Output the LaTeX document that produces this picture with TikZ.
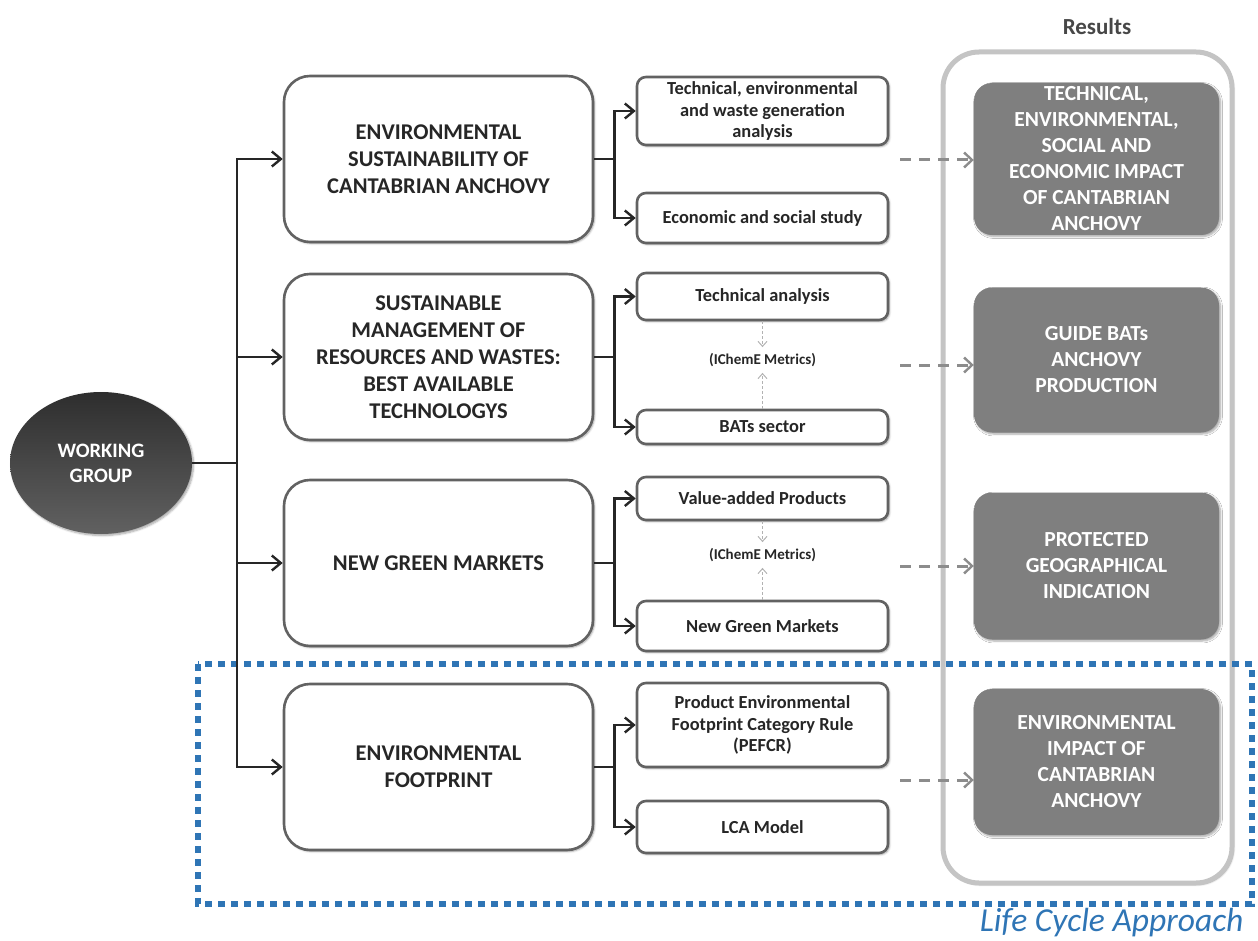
\documentclass[tikz,border=0pt]{standalone}
\usepackage{fontspec}
\setmainfont{Carlito}
\usetikzlibrary{arrows.meta,calc,shadows.blur,shapes.geometric}
\definecolor{cInk}{HTML}{262626}
\definecolor{cEdge}{HTML}{626262}
\definecolor{cRes}{HTML}{7F7F7F}
\definecolor{cPanel}{HTML}{C4C4C4}
\definecolor{cDash}{HTML}{8C8C8C}
\definecolor{cLife}{HTML}{2F75B5}
\tikzset{
  soft/.style     = {blur shadow={shadow xshift=1.5pt, shadow yshift=-1.5pt,
                     shadow blur steps=6, shadow opacity=35}},
  mainbox/.style  = {draw=cEdge, line width=2.6, fill=white, rounded corners=26,
                     soft, align=center, text=cInk, minimum width=309, minimum height=166,
                     font=\bfseries\fontsize{22.5}{27}\selectfont},
  subbox/.style   = {draw=cEdge, line width=2.6, fill=white, rounded corners=9,
                     soft, align=center, text=cInk, minimum width=251,
                     font=\bfseries\fontsize{18.4}{21.5}\selectfont},
  resbox/.style   = {fill=cRes, rounded corners=18, soft, align=center, text=white,
                     minimum width=245, font=\bfseries\fontsize{21.5}{26}\selectfont},
  group/.style    = {ellipse, top color=black!82, bottom color=black!62, draw=none,
                     soft, minimum width=182, minimum height=142, text=white,
                     align=center, font=\bfseries\fontsize{20.5}{25}\selectfont},
  flow/.style     = {-{Straight Barb[length=9pt, width=15pt, line width=2.4pt]},
                     line width=2.6, draw=cInk},
  link/.style     = {line width=2.6, draw=cInk},
  resflow/.style  = {-{Straight Barb[length=8pt, width=15pt, line width=2.4pt]},
                     line width=3, draw=cDash, dash pattern=on 11pt off 8pt},
  metric/.style   = {-{Straight Barb[length=5pt, width=9pt]}, line width=1,
                     draw=black!30, dash pattern=on 3pt off 2pt},
  note/.style     = {font=\bfseries\fontsize{15}{18}\selectfont, text=cInk, inner sep=6},
}
\begin{document}
\begin{tikzpicture}[x=1pt, y=-1pt]
  \useasboundingbox (0,0) rectangle (1258,941);

  % results panel
  \node[draw=cPanel, line width=5, fill=white, rounded corners=36, soft,
        minimum width=289, minimum height=831] (P) at (1087.5,467.5) {};
  \node[font=\bfseries\fontsize{23}{27}\selectfont, text=black!72] (RL) at (1097,27) {Results};

  % life cycle frame
  \draw[cLife, line width=6, dash pattern=on 7pt off 6pt] (198,664) rectangle (1252,904);
  \node[anchor=base east, text=cLife, font=\itshape\fontsize{33.5}{38}\selectfont]
    (LC) at (1247,931) {Life Cycle Approach};

  % working group and trunk
  \node[group] (WG) at (101,463) {WORKING\\GROUP};
  \coordinate (T) at (237,463);

  % work packages
  \node[mainbox] (E1) at (438.5,159) {ENVIRONMENTAL\\SUSTAINABILITY OF\\CANTABRIAN ANCHOVY};
  \node[mainbox] (E2) at (438.5,357) {SUSTAINABLE\\MANAGEMENT OF\\RESOURCES AND WASTES:\\BEST AVAILABLE\\TECHNOLOGYS};
  \node[mainbox] (E3) at (438.5,563) {NEW GREEN MARKETS};
  \node[mainbox] (E4) at (438.5,767) {ENVIRONMENTAL\\FOOTPRINT};

  % tasks
  \node[subbox, minimum height=68] (S1a) at (762.5,111)   {Technical, environmental\\and waste generation\\analysis};
  \node[subbox, minimum height=50] (S1b) at (762.5,218)   {Economic and social study};
  \node[subbox, minimum height=47] (S2a) at (762.5,296.5) {Technical analysis};
  \node[subbox, minimum height=34] (S2b) at (762.5,427)   {BATs sector};
  \node[subbox, minimum height=43] (S3a) at (762.5,498.5) {Value-added Products};
  \node[subbox, minimum height=50] (S3b) at (762.5,626)   {New Green Markets};
  \node[subbox, minimum height=84] (S4a) at (762.5,725)   {Product Environmental\\Footprint Category Rule\\(PEFCR)};
  \node[subbox, minimum height=52] (S4b) at (762.5,827)   {LCA Model};

  \node[note] (M2) at (762.5,360) {(IChemE Metrics)};
  \node[note] (M3) at (762.5,555) {(IChemE Metrics)};

  % results
  \node[resbox, minimum height=152] (R1) at (1096.5,159) {TECHNICAL,\\ENVIRONMENTAL,\\SOCIAL AND\\ECONOMIC IMPACT\\OF CANTABRIAN\\ANCHOVY};
  \node[resbox, minimum height=145] (R2) at (1096.5,360) {GUIDE BATs\\ANCHOVY\\PRODUCTION};
  \node[resbox, minimum height=147] (R3) at (1096.5,566) {PROTECTED\\GEOGRAPHICAL\\INDICATION};
  \node[resbox, minimum height=146] (R4) at (1096.5,762) {ENVIRONMENTAL\\IMPACT OF\\CANTABRIAN\\ANCHOVY};

  % trunk to work packages
  \draw[link] (WG.east) -- (T);
  \foreach \e in {E1,E2,E3,E4} \draw[flow] (T) |- (\e.west);

  % work packages to tasks
  \foreach \e/\a/\b in {E1/S1a/S1b, E2/S2a/S2b, E3/S3a/S3b, E4/S4a/S4b} {
    \draw[link] (\e.east) -- ++(20,0) coordinate (\e j);
    \draw[flow] (\e j) |- (\a.west);
    \draw[flow] (\e j) |- (\b.west);
  }

  % metrics
  \draw[metric] (S2a.south) -- (M2.north);
  \draw[metric] (S2b.north) -- (M2.south);
  \draw[metric] (S3a.south) -- (M3.north);
  \draw[metric] (S3b.north) -- (M3.south);

  % tasks to results
  \foreach \r/\y in {R1/160, R2/365, R3/566, R4/780} {
    \coordinate (\r s) at (900,\y);
    \draw[resflow] (\r s) -- (\r.west |- \r s);
  }
\end{tikzpicture}
\end{document}
